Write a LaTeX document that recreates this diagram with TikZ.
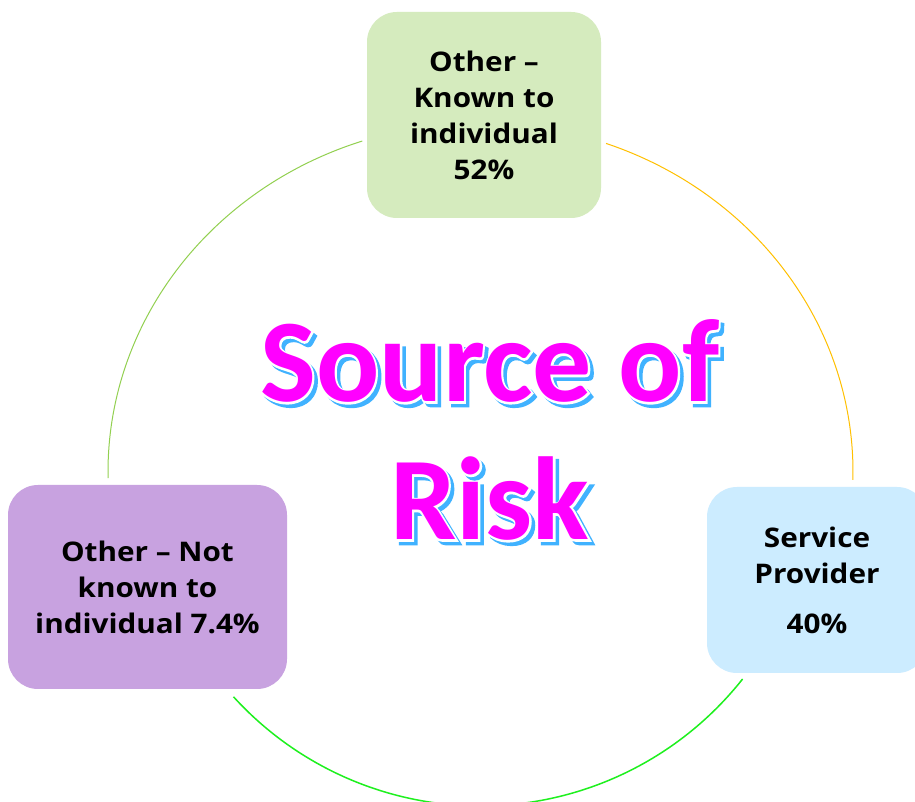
\documentclass[tikz,border=0pt]{standalone}
\usepackage{fontspec}
\newfontfamily\boxfont[FakeStretch=1.1]{Open Sans}
\newfontfamily\titlefont{Carlito}
\newfontfamily\titleedgefont[FakeBold=3]{Carlito}

\definecolor{knowngreen}{RGB}{213,235,190}
\definecolor{providerblue}{RGB}{204,236,255}
\definecolor{unknownpurple}{RGB}{200,162,224}
\definecolor{leafgreen}{RGB}{146,208,80}
\definecolor{gold}{RGB}{255,192,0}
\definecolor{limegreen}{RGB}{30,240,30}
\definecolor{titlemagenta}{RGB}{255,0,255}
\definecolor{shadowblue}{RGB}{64,178,255}

\tikzset{
  riskbox/.style={rounded corners=30pt, inner sep=0pt, align=center, text=black,
    font=\boxfont\bfseries\fontsize{27}{36}\selectfont},
  cyclearc/.style={line width=1pt},
  titletext/.style={anchor=base, inner sep=0pt,
    font=\titlefont\bfseries\fontsize{118}{138}\selectfont},
  titleedge/.style={anchor=base, inner sep=0pt,
    font=\titleedgefont\bfseries\fontsize{118}{138}\selectfont}
}

\begin{document}
\begin{tikzpicture}[x=1pt,y=1pt]
	\useasboundingbox (0,0) rectangle (915,802);
	\clip (0,0) rectangle (915,802);
	\fill[white] (0,0) rectangle (915,802);

	% cycle arcs
	\coordinate (ctr) at (480.5,330);
	\path (ctr) ++(181:372.5 and 349) coordinate (leftEnd);
	\path (ctr) ++(70.3:372.5 and 349) coordinate (topEnd);
	\path (ctr) ++(-38.3:334) coordinate (rightEnd);
	\draw[cyclearc, leafgreen] (leftEnd) arc[start angle=181, end angle=108.5, x radius=372.5, y radius=349];
	\draw[cyclearc, gold] (topEnd) arc[start angle=70.3, end angle=-1.3, x radius=372.5, y radius=349];
	\draw[cyclearc, limegreen, line width=1.5pt] (rightEnd) arc[start angle=-38.3, end angle=-137.7, radius=334];

	% boxes
	\node[riskbox, fill=knowngreen, minimum width=234pt, minimum height=206pt] (known) at (484,687) {Other –\\Known to\\individual\\52\%};
	\node[riskbox, fill=providerblue, minimum width=220pt, minimum height=186pt] (provider) at (817,222) {Service\\Provider\\[14pt]40\%};
	\node[riskbox, fill=unknownpurple, minimum width=279pt, minimum height=204pt] (unknown) at (147.5,215) {Other – Not\\known to\\individual 7.4\%};

	% title: shadow, white edge, then the letters
	\coordinate (srcLine) at (490,400);
	\coordinate (riskLine) at (490,262);
	\node[titleedge, text=shadowblue, xshift=3.5pt, yshift=-3.5pt] (srcShadow) at (srcLine) {Source of};
	\node[titleedge, text=shadowblue, xshift=3.5pt, yshift=-3.5pt] (riskShadow) at (riskLine) {Risk};
	\node[titleedge, text=white] (srcEdge) at (srcLine) {Source of};
	\node[titleedge, text=white] (riskEdge) at (riskLine) {Risk};
	\node[titletext, text=titlemagenta] (src) at (srcLine) {Source of};
	\node[titletext, text=titlemagenta] (risk) at (riskLine) {Risk};
\end{tikzpicture}
\end{document}
